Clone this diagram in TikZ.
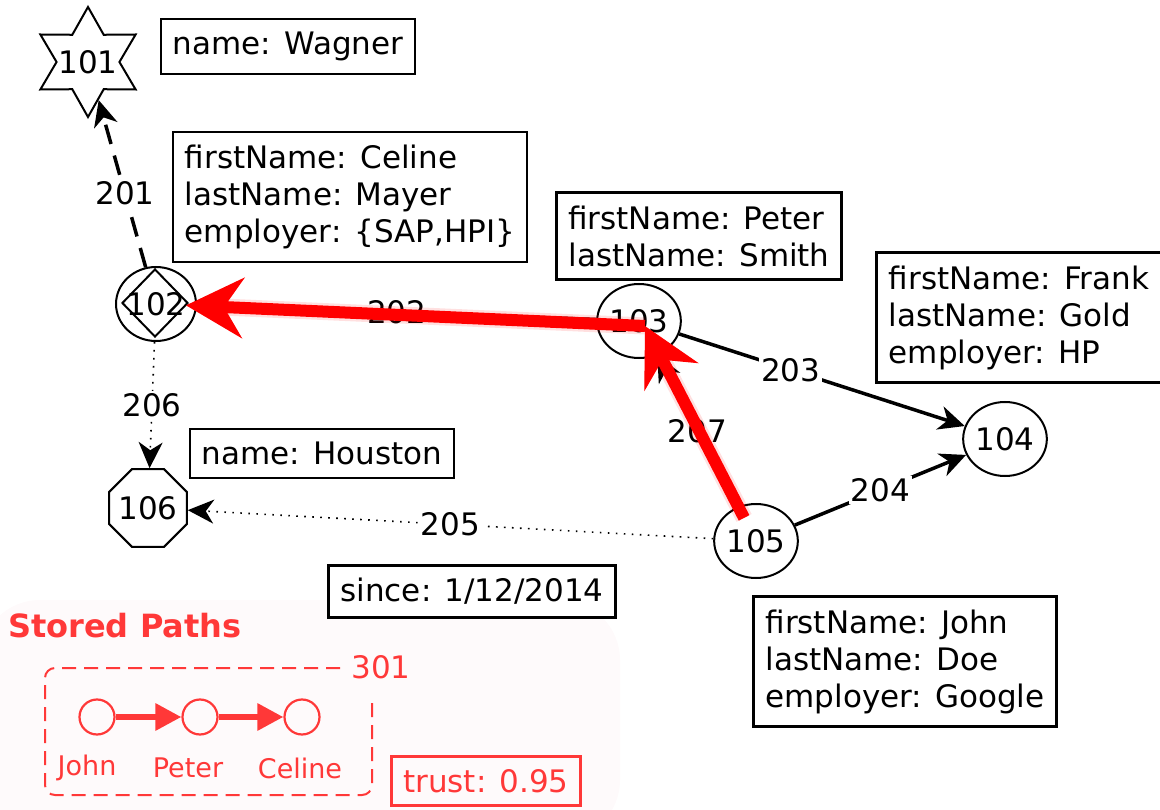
\documentclass[tikz,border=0pt]{standalone}
\usepackage{fontspec}
\setmainfont{DejaVu Sans}
\usetikzlibrary{shapes.geometric,arrows.meta}
\definecolor{pathred}{RGB}{255,0,0}
\definecolor{storedred}{RGB}{255,56,56}
\definecolor{storedbg}{RGB}{254,250,251}
\begin{document}
\begin{tikzpicture}[x=1pt,y=-1pt,
  txt/.style={font=\fontsize{31}{37}\selectfont},
  vert/.style={txt,ellipse,draw,line width=2pt,minimum width=80pt,minimum height=74pt,inner sep=0pt},
  prop/.style={txt,draw,line width=2.6pt,align=left,inner xsep=12pt,inner ysep=13pt,fill=white},
  elabel/.style={txt,fill=white,inner sep=2pt},
  headtip/.style={-{Stealth[length=26pt,width=24pt,inset=8pt]}},
  rel/.style={headtip,line width=3.5pt},
  reldash/.style={headtip,line width=3.5pt,dash pattern=on 20pt off 12pt},
  reldot/.style={headtip,line width=1.6pt,dash pattern=on 1.6pt off 6.4pt},
  hop/.style={line width=12pt,pathred,-{Stealth[length=57pt,width=60pt,inset=19pt]}},
  glow/.style={line width=17pt,pathred,-{Stealth[length=57pt,width=60pt,inset=19pt,line width=5pt]}},
  spnode/.style={circle,draw=storedred,line width=2.2pt,minimum size=35pt,inner sep=0pt},
  sparrow/.style={storedred,line width=6pt,-{Triangle[length=26pt,width=26pt]}},
  splabel/.style={font=\fontsize{27}{32}\selectfont,text=storedred},
]
\useasboundingbox (0,0) rectangle (1160,810);

% soft backdrop of the stored-paths panel
\fill[storedbg, rounded corners=60pt] (-20,600) rectangle (620,840);

% property boxes
\node[prop] (pWagner) at (288,46.5) {name: Wagner};
\node[prop] (pCeline) at (350,197) {firstName: Celine\\lastName: Mayer\\employer: \{SAP,HPI\}};
\node[prop] (pPeter) at (699,236) {firstName: Peter\\lastName: Smith};
\node[prop] (pFrank) at (1019,317.5) {firstName: Frank\\lastName: Gold\\employer: HP};
\node[prop] (pHouston) at (322,453.5) {name: Houston};
\node[prop] (pSince) at (472,591.5) {since: 1/12/2014};
\node[prop] (pJohn) at (905,661.5) {firstName: John\\lastName: Doe\\employer: Google};

% vertices
\node[star,star points=6,star point ratio=1.75,minimum size=110pt,inner sep=0pt,draw,line width=2pt] (n101) at (88,62) {};
\node[txt] (t101) at (88,62) {101};
\node[vert] (n102) at (156,304) {};
\node[diamond,draw,line width=2pt,minimum width=66pt,minimum height=68pt,inner sep=0pt] (d102) at (155,303) {};
\node[txt] (t102) at (156,304) {102};
\node[vert] (n103) at (639,321) {103};
\node[vert] (n104) at (1005,439) {104};
\node[vert] (n105) at (756,541) {105};
\node[regular polygon,regular polygon sides=8,minimum size=84pt,inner sep=0pt,draw,line width=2pt] (n106) at (148,508) {};
\node[txt] (t106) at (148,508) {106};

% relationships
\draw[reldash] (n102) -- node[elabel,pos=0.44]{201} (n101);
\draw[rel] (n103) -- node[elabel]{202} (n102);
\draw[rel] (n103) -- node[elabel,pos=0.39]{203} (n104);
\draw[rel] (n105) -- node[elabel]{204} (n104);
\draw[reldot] (n105) -- node[elabel]{205} (n106);
\draw[reldot] (n102) -- node[elabel]{206} (n106);
\draw[rel] (n105) -- node[elabel]{207} (n103);

% highlighted path John -> Peter -> Celine
\coordinate (pbend) at (645,326);
\begin{scope}[transparency group, opacity=0.12]
  \draw[glow, shorten <=26pt] (n105.center) -- (pbend);
  \draw[glow, shorten >=30pt] (pbend) -- (n102.center);
\end{scope}
\draw[hop, shorten <=26pt] (n105.center) -- (pbend);
\draw[hop, shorten >=30pt] (pbend) -- (n102.center);

% stored paths panel
\node[font=\bfseries\fontsize{32}{38}\selectfont,text=storedred,anchor=west,inner sep=0pt] (spTitle) at (8,626) {Stored Paths};
\draw[storedred, line width=2pt, dash pattern=on 14pt off 8pt, rounded corners=10pt]
  (372,703) -- (372,795) -- (45,795) -- (45,668) -- (345,668);
\node[txt,text=storedred] (lbl301) at (381,667) {301};
\node[spnode] (spJohn) at (97,717) {};
\node[spnode] (spPeter) at (200,717) {};
\node[spnode] (spCeline) at (302,717) {};
\draw[sparrow] (spJohn) -- (spPeter);
\draw[sparrow] (spPeter) -- (spCeline);
\node[splabel] (lJohn) at (87,768) {John};
\node[splabel] (lPeter) at (188,768) {Peter};
\node[splabel] (lCeline) at (300,768) {Celine};
\node[prop,draw=storedred,text=storedred,fill=none] (pTrust) at (486,781) {trust: 0.95};
\end{tikzpicture}
\end{document}
